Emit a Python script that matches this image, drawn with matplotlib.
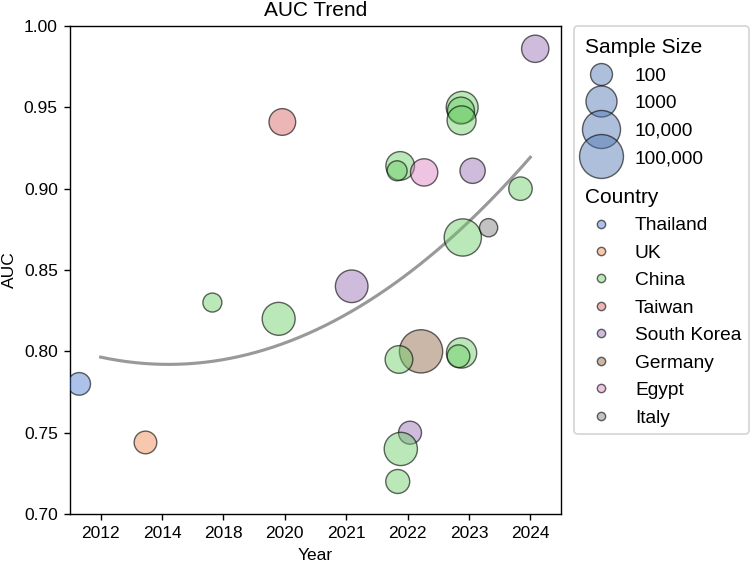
import numpy as np
import matplotlib
matplotlib.use('Agg')
import matplotlib.pyplot as plt
from matplotlib.lines import Line2D
from matplotlib.colors import to_rgba

plt.rcParams['font.family'] = ['Liberation Sans', 'DejaVu Sans']

# ---------------- data ----------------
year_labels = ['2012', '2014', '2018', '2020', '2021', '2022', '2023', '2024']
countries = ['Thailand', 'UK', 'China', 'Taiwan', 'South Korea', 'Germany', 'Egypt', 'Italy']
country_colors = ['#4878d0', '#ee854a', '#6acc64', '#d65f5f', '#956cb4', '#8c613c', '#dc7ec0', '#797979']

study_year = ['2012', '2014', '2018', '2020', '2020', '2021',
              '2022', '2022', '2022', '2022', '2022', '2022', '2022', '2022',
              '2023', '2023', '2023', '2023', '2023', '2023', '2023', '2023',
              '2024', '2024']
study_jitter = [-0.35, -0.27, -0.18, -0.10, -0.04, 0.09,
                -0.12, -0.17, 0.27, 0.22, -0.14, 0.04, -0.11, -0.16,
                -0.11, -0.13, -0.12, 0.06, -0.10, 0.32, -0.12, -0.17,
                -0.16, 0.08]
study_auc = [0.780, 0.744, 0.830, 0.820, 0.941, 0.840,
             0.914, 0.911, 0.910, 0.800, 0.795, 0.750, 0.740, 0.720,
             0.950, 0.948, 0.942, 0.911, 0.870, 0.876, 0.799, 0.797,
             0.900, 0.986]
study_n = [116, 116, 56, 1780, 300, 1600,
           500, 67, 350, 75000, 385, 124, 1950, 155,
           1300, 320, 550, 210, 7500, 49, 790, 116,
           138, 347]
study_country = ['Thailand', 'UK', 'China', 'China', 'Taiwan', 'South Korea',
                 'China', 'China', 'Egypt', 'Germany', 'China', 'South Korea', 'China', 'China',
                 'China', 'China', 'China', 'South Korea', 'China', 'Italy', 'China', 'China',
                 'China', 'South Korea']

legend_sizes = [100, 1000, 10000, 100000]
legend_size_labels = ['100', '1000', '10,000', '100,000']

# ---------------- helpers ----------------
def size_of(n):
    return 160.0 * (np.log10(n) - 1.0)

FILL_ALPHA = 0.45
EDGE = (0, 0, 0, 0.6)

fig = plt.figure(figsize=(6, 4.504), dpi=125)
ax = fig.add_axes([0.0933, 0.087, 0.6547, 0.8668])

cmap = dict(zip(countries, country_colors))
x_idx = np.array([year_labels.index(y) for y in study_year], dtype=float)
x_pos = x_idx + np.array(study_jitter)
faces = [to_rgba(cmap[c], FILL_ALPHA) for c in study_country]
sizes = [size_of(n) for n in study_n]
ax.scatter(x_pos, study_auc, s=sizes, c=faces, edgecolors=[EDGE], linewidths=0.8, zorder=3)

# quadratic trend (fit on the year category index)
coef = np.polyfit(x_idx, study_auc, 2)
xf = np.linspace(0, len(year_labels) - 1, 200)
ax.plot(xf, np.polyval(coef, xf), color='gray', alpha=0.8, lw=1.8, zorder=2)

ax.set_xlim(-0.5, len(year_labels) - 0.5)
ax.set_ylim(0.70, 1.00)
ax.set_xticks(range(len(year_labels)))
ax.set_xticklabels(year_labels)
ax.set_yticks(np.arange(0.70, 1.0001, 0.05))
ax.yaxis.set_major_formatter(matplotlib.ticker.FormatStrFormatter('%.2f'))
ax.tick_params(labelsize=10)
ax.set_xlabel('Year', fontsize=10)
ax.set_ylabel('AUC', fontsize=10)
ax.set_title('AUC Trend', fontsize=12)

# legend
handles, labels = [], []
h = Line2D([], [], linestyle='')
h.set_visible(False)
handles.append(h); labels.append('Sample Size')
for n, lab in zip(legend_sizes, legend_size_labels):
    handles.append(Line2D([], [], linestyle='', marker='o', markersize=np.sqrt(size_of(n)),
                          markerfacecolor=to_rgba('#4c72b0', FILL_ALPHA), markeredgecolor=EDGE,
                          markeredgewidth=0.8))
    labels.append(lab)
h = Line2D([], [], linestyle='')
h.set_visible(False)
handles.append(h); labels.append('Country')
for c in countries:
    handles.append(Line2D([], [], linestyle='', marker='o', markersize=4.8,
                          markerfacecolor=to_rgba(cmap[c], FILL_ALPHA), markeredgecolor=EDGE,
                          markeredgewidth=0.8))
    labels.append(c)

leg = ax.legend(handles, labels, loc='upper left', bbox_to_anchor=(1.026, 1.0),
                borderaxespad=0, fontsize=11, frameon=True, labelspacing=0.53)
column = leg._legend_handle_box.get_children()[0]
for hp in column.get_children():
    da, ta = hp.get_children()
    arts = da.get_children()
    if not all(a.get_visible() for a in arts):
        da.width = 0
        hp.sep = 2
        for t in ta.get_children():
            t.set_fontsize(12)
        if ta.get_children()[0].get_text() == 'Country':
            da.height += 7
        else:
            da.height += 3.5

fig.savefig('out.png', dpi=125)
